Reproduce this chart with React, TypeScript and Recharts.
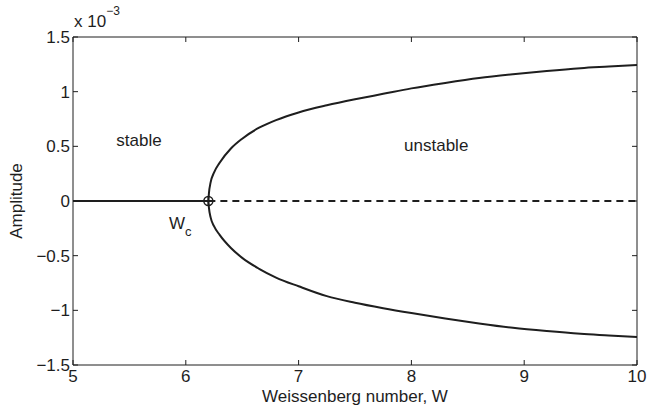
import { LineChart, Line, XAxis, YAxis, ReferenceArea, ReferenceDot } from 'recharts'

// bifurcation diagram, amplitude in units of 1e-3
const W_C = 6.2

const upperW = [6.2, 6.205, 6.22, 6.25, 6.3, 6.4, 6.5, 6.65, 6.8, 7.0, 7.25, 7.5, 7.75, 8.0, 8.3, 8.6, 8.9, 9.2, 9.5, 9.75, 10]
const upperA = [0, 0.07, 0.17, 0.26, 0.35, 0.48, 0.57, 0.67, 0.74, 0.81, 0.875, 0.93, 0.98, 1.03, 1.08, 1.125, 1.16, 1.19, 1.215, 1.23, 1.245]
const lowerA = [0, -0.06, -0.15, -0.23, -0.31, -0.43, -0.52, -0.62, -0.7, -0.78, -0.87, -0.93, -0.98, -1.025, -1.075, -1.12, -1.16, -1.19, -1.215, -1.23, -1.245]

const stableW = [5, W_C]
const unstableW = [W_C, 10]

const xTicks = [5, 6, 7, 8, 9, 10]
const yTicks = [-1.5, -1, -0.5, 0, 0.5, 1, 1.5]

const upper = upperW.map((w, i) => ({ w, a: upperA[i] }))
const lower = upperW.map((w, i) => ({ w, a: lowerA[i] }))
const stable = stableW.map((w) => ({ w, a: 0 }))
const unstable = unstableW.map((w) => ({ w, a: 0 }))

const W = 647
const H = 408
const LEFT = 73
const RIGHT = 637
const TOP = 37
const BOTTOM = 365
const INK = '#1e1e1e'
const FONT = '"Liberation Sans", Arial, Helvetica, sans-serif'

const fmt = (v: number) => (v < 0 ? '\u2212' + Math.abs(v) : String(v))

function XTick({ x, payload }: any) {
  return (
    <g>
      <line x1={x} x2={x} y1={BOTTOM} y2={BOTTOM - 5} stroke={INK} />
      <line x1={x} x2={x} y1={TOP} y2={TOP + 5} stroke={INK} />
      <text x={x} y={382} textAnchor="middle" fontSize={17} fill={INK} fontFamily={FONT}>
        {fmt(payload.value)}
      </text>
    </g>
  )
}

function YTick({ y, payload }: any) {
  return (
    <g>
      <line x1={LEFT} x2={LEFT + 5} y1={y} y2={y} stroke={INK} />
      <line x1={RIGHT} x2={RIGHT - 5} y1={y} y2={y} stroke={INK} />
      <text x={70} y={y + 6} textAnchor="end" fontSize={17} fill={INK} fontFamily={FONT}>
        {fmt(payload.value)}
      </text>
    </g>
  )
}

const note = (txt: string) => (p: any) => (
  <text x={p.cx} y={p.cy + 6} textAnchor="middle" fontSize={17} fill={INK} fontFamily={FONT}>
    {txt}
  </text>
)

const WcLabel = (p: any) => (
  <text x={p.cx} y={p.cy + 6} textAnchor="middle" fontSize={17} fill={INK} fontFamily={FONT}>
    W<tspan fontSize={13} dy={7}>c</tspan>
  </text>
)

const Marker = (p: any) => (
  <g stroke={INK} strokeWidth={1.5} fill="none">
    <circle cx={p.cx} cy={p.cy} r={4.5} />
    <line x1={p.cx - 4.5} x2={p.cx + 4.5} y1={p.cy} y2={p.cy} />
    <line x1={p.cx} x2={p.cx} y1={p.cy - 4.5} y2={p.cy + 4.5} />
  </g>
)

export default function App() {
  return (
    <div style={{ position: 'absolute', left: 0, top: 0, width: W, height: H, background: '#fff', fontFamily: FONT }}>
      <LineChart width={W} height={H} margin={{ top: TOP, right: W - RIGHT, bottom: 0, left: 0 }}>
        <XAxis
          dataKey="w"
          type="number"
          domain={[5, 10]}
          ticks={xTicks}
          height={H - BOTTOM}
          axisLine={false}
          tickLine={false}
          tick={<XTick />}
          allowDataOverflow
        />
        <YAxis
          dataKey="a"
          type="number"
          domain={[-1.5, 1.5]}
          ticks={yTicks}
          width={LEFT}
          axisLine={false}
          tickLine={false}
          tick={<YTick />}
          allowDataOverflow
        />
        <ReferenceArea x1={5} x2={10} y1={-1.5} y2={1.5} fill="none" stroke={INK} strokeWidth={1} fillOpacity={0} />
        <Line data={stable} dataKey="a" type="linear" stroke={INK} strokeWidth={2} dot={false} isAnimationActive={false} />
        <Line data={unstable} dataKey="a" type="linear" stroke={INK} strokeWidth={2} strokeDasharray="7 5" dot={false} isAnimationActive={false} />
        <Line data={upper} dataKey="a" type="monotone" stroke={INK} strokeWidth={2} dot={false} isAnimationActive={false} />
        <Line data={lower} dataKey="a" type="monotone" stroke={INK} strokeWidth={2} dot={false} isAnimationActive={false} />
        <ReferenceDot x={W_C} y={0} r={4.5} shape={Marker} />
        <ReferenceDot x={5.585} y={0.558} r={0} shape={note('stable')} />
        <ReferenceDot x={8.22} y={0.51} r={0} shape={note('unstable')} />
        <ReferenceDot x={5.95} y={-0.2} r={0} shape={WcLabel} />
      </LineChart>
      <svg width={W} height={H} style={{ position: 'absolute', left: 0, top: 0, pointerEvents: 'none' }}>
        <text x={74} y={27} fontSize={17} fill={INK} fontFamily={FONT}>
          x 10<tspan fontSize={12} dy={-12}>{'\u22123'}</tspan>
        </text>
        <text x={22} y={201} transform="rotate(-90 22 201)" textAnchor="middle" fontSize={17} fill={INK} fontFamily={FONT}>
          Amplitude
        </text>
        <text x={355} y={402} textAnchor="middle" fontSize={17} fill={INK} fontFamily={FONT}>
          Weissenberg number, W
        </text>
      </svg>
    </div>
  )
}
